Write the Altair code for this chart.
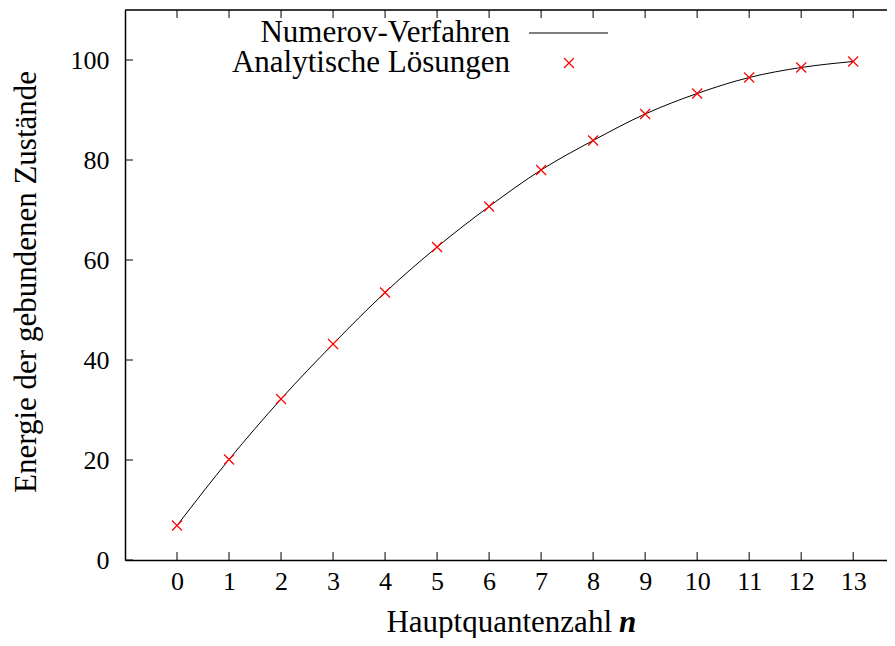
import altair as alt
import pandas as pd

# Data
n_vals = list(range(14))
numerov = [6.9, 20.1, 32.2, 43.2, 53.5, 62.6, 70.7, 78.0, 83.9, 89.2, 93.3, 96.5, 98.5, 99.7]
analytic = [6.9, 20.1, 32.2, 43.2, 53.5, 62.6, 70.7, 78.0, 83.9, 89.2, 93.3, 96.5, 98.5, 99.7]
x_ticks = list(range(14))
y_ticks = [0, 20, 40, 60, 80, 100]
legend_labels = ["Numerov-Verfahren", "Analytische Lösungen"]

FONT = "Liberation Serif"
FS_LAB = 26
FS_TXT = 31
W, H = 762, 550
XDOM = [-1, 13.65]
YDOM = [0, 110]

df_line = pd.DataFrame({"n": n_vals, "E": numerov})
df_pts = pd.DataFrame({"n": n_vals, "E": analytic})
df_xt = pd.DataFrame({"t": x_ticks})
df_yt = pd.DataFrame({"t": y_ticks})

xs = alt.Scale(domain=XDOM, nice=False, zero=False)
ys = alt.Scale(domain=YDOM, nice=False, zero=False)

XCROSS = "M-1,-1L1,1M-1,1L1,-1"

line = alt.Chart(df_line).mark_line(color="black", strokeWidth=1, interpolate="monotone").encode(
    x=alt.X("n:Q", scale=xs, axis=alt.Axis(
        values=x_ticks, ticks=False, grid=False, title=None, labelFont=FONT, labelFontSize=FS_LAB,
        labelColor="black", domainColor="black", domainWidth=1.5, labelPadding=8, labelFlush=False)),
    y=alt.Y("E:Q", scale=ys, axis=alt.Axis(
        values=y_ticks, ticks=False, grid=False, title=None, labelFont=FONT, labelFontSize=FS_LAB,
        labelColor="black", domainColor="black", domainWidth=1.5, labelPadding=16, labelFlush=False)),
)

pts = alt.Chart(df_pts).mark_point(shape=XCROSS, size=100, color="red", strokeWidth=1.2, filled=False, opacity=1).encode(
    x=alt.X("n:Q", scale=xs), y=alt.Y("E:Q", scale=ys)
)

# inward ticks: bottom, top, left
xt_bottom = alt.Chart(df_xt).mark_rule(color="black", strokeWidth=1).encode(
    x=alt.X("t:Q", scale=xs), y=alt.value(H), y2=alt.value(H - 8))
xt_top = alt.Chart(df_xt).mark_rule(color="black", strokeWidth=1).encode(
    x=alt.X("t:Q", scale=xs), y=alt.value(0), y2=alt.value(8))
yt_left = alt.Chart(df_yt).mark_rule(color="black", strokeWidth=1).encode(
    y=alt.Y("t:Q", scale=ys), x=alt.value(0), x2=alt.value(8))

top_border = alt.Chart(df_xt.head(1)).mark_rule(color="black", strokeWidth=1.5).encode(
    x=alt.value(0), x2=alt.value(W), y=alt.value(0))

# legend (gnuplot style: label, then sample)
df_leg1 = pd.DataFrame({"label": [legend_labels[0]]})
df_leg2 = pd.DataFrame({"label": [legend_labels[1]]})
leg_text1 = alt.Chart(df_leg1).mark_text(font=FONT, fontSize=FS_TXT, align="right", baseline="middle", color="black").encode(
    text="label:N", x=alt.value(385), y=alt.value(23))
leg_text2 = alt.Chart(df_leg2).mark_text(font=FONT, fontSize=FS_TXT, align="right", baseline="middle", color="black").encode(
    text="label:N", x=alt.value(385), y=alt.value(53))
leg_line = alt.Chart(df_leg1).mark_rule(color="black", strokeWidth=1).encode(
    x=alt.value(404), x2=alt.value(483), y=alt.value(23))
leg_pt = alt.Chart(df_leg2).mark_point(shape=XCROSS, size=100, color="red", strokeWidth=1.2, filled=False, opacity=1).encode(
    x=alt.value(444), y=alt.value(53))

# axis titles
df_xtitle = pd.DataFrame({"txt": ["Hauptquantenzahl"]})
df_xn = pd.DataFrame({"txt": ["n"]})
df_ytitle = pd.DataFrame({"txt": ["Energie der gebundenen Zustände"]})
xtitle = alt.Chart(df_xtitle).mark_text(font=FONT, fontSize=FS_TXT, align="right", baseline="middle", color="black").encode(
    text="txt:N", x=alt.value(487), y=alt.value(613))
xn = alt.Chart(df_xn).mark_text(font=FONT, fontSize=FS_TXT, fontStyle="italic", fontWeight="bold", align="left", baseline="middle", color="black").encode(
    text="txt:N", x=alt.value(494), y=alt.value(613))
ytitle = alt.Chart(df_ytitle).mark_text(font=FONT, fontSize=31, angle=270, align="center", baseline="middle", color="black").encode(
    text="txt:N", x=alt.value(-98), y=alt.value(272))

chart = alt.layer(
    line, pts, xt_bottom, xt_top, yt_left, top_border, leg_text1, leg_text2, leg_line, leg_pt, xtitle, xn, ytitle
).properties(
    width=W, height=H,
    autosize=alt.AutoSizeParams(type="none"),
    padding={"left": 117, "top": 2, "right": 0, "bottom": 78},
).configure_view(stroke=None).configure(background="white")

chart.save("out.html", embed_options={"renderer": "svg", "actions": False})
